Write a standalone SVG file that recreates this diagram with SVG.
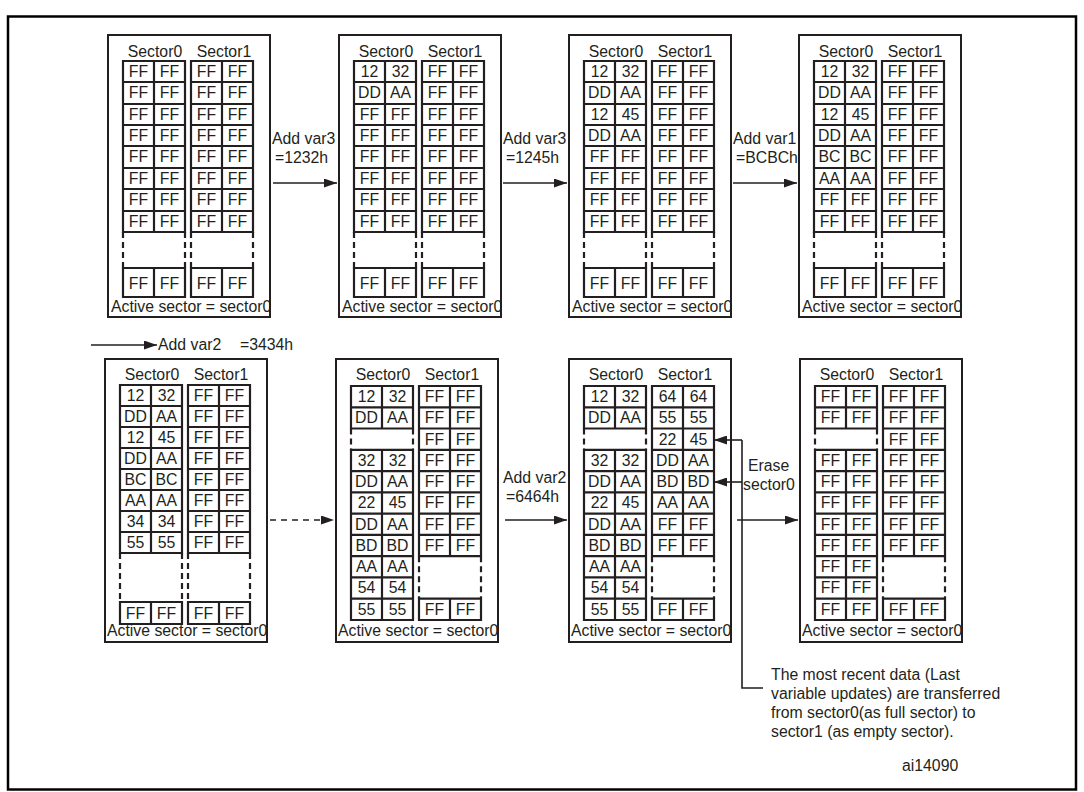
<svg xmlns="http://www.w3.org/2000/svg" xmlns:xlink="http://www.w3.org/1999/xlink" width="1084" height="792" viewBox="0 0 1084 792">
<style>
.pn{fill:#fff;stroke:#231f20;stroke-width:2}
.g{fill:none;stroke:#231f20;stroke-width:2.2}
.gd{fill:none;stroke:#231f20;stroke-width:2.2;stroke-dasharray:6 4}
.t{font-family:"Liberation Sans",Arial,sans-serif;font-size:15.8px;fill:#231f20}
.c{text-anchor:middle}
.ln{fill:none;stroke:#231f20;stroke-width:1.6}
.lnd{fill:none;stroke:#231f20;stroke-width:1.6;stroke-dasharray:6 5}
</style>
<defs>
<marker id="ah" markerWidth="13" markerHeight="9" refX="13" refY="4.5" orient="auto" markerUnits="userSpaceOnUse"><path d="M0,0 L13,4.5 L0,9 Z" fill="#231f20"/></marker>
<g id="colT">
<path class="g" d="M0,61H62V232H0Z M0,82H62 M0,104H62 M0,125H62 M0,146H62 M0,168H62 M0,189H62 M0,211H62 M31,61V232 M0,268H62V297H0Z M31,268V297"/>
<path class="gd" d="M0,232V268 M62,232V268"/>
</g>
<g id="colB8">
<path class="g" d="M0,385H62V553H0Z M0,406H62 M0,427H62 M0,448H62 M0,469H62 M0,490H62 M0,511H62 M0,532H62 M31,385V553 M0,602H62V624H0Z M31,602V624"/>
<path class="gd" d="M0,553V602 M62,553V602"/>
</g>
<g id="colA">
<path class="g" d="M0,386H62V428.5H0Z M0,407.3H62 M31,386V428.5 M0,449.8H62V620H0Z M0,471.1H62 M0,492.4H62 M0,513.6H62 M0,534.9H62 M0,556.2H62 M0,577.4H62 M0,598.7H62 M31,449.8V620"/>
<path class="gd" d="M0,428.5V449.8 M62,428.5V449.8"/>
</g>
<g id="colB">
<path class="g" d="M0,386H62V556.2H0Z M0,407.3H62 M0,428.5H62 M0,449.8H62 M0,471.1H62 M0,492.4H62 M0,513.6H62 M0,534.9H62 M31,386V556.2 M0,598.7H62V620H0Z M31,598.7V620"/>
<path class="gd" d="M0,556.2V598.7 M62,556.2V598.7"/>
</g>
</defs>
<rect width="1084" height="792" fill="#fff"/>
<rect x="8" y="16.5" width="1068" height="773" fill="none" stroke="#000" stroke-width="2.5"/>

<g id="p1">
<rect class="pn" x="108" y="35" width="162" height="282"/>
<text class="t c" y="57"><tspan x="155">Sector0</tspan><tspan x="224">Sector1</tspan></text>
<use href="#colT" x="123"/><use href="#colT" x="191"/>
<text class="t c" y="77"><tspan x="138.5">FF</tspan><tspan x="169.5">FF</tspan><tspan x="206.5">FF</tspan><tspan x="237.5">FF</tspan></text>
<text class="t c" y="98"><tspan x="138.5">FF</tspan><tspan x="169.5">FF</tspan><tspan x="206.5">FF</tspan><tspan x="237.5">FF</tspan></text>
<text class="t c" y="120"><tspan x="138.5">FF</tspan><tspan x="169.5">FF</tspan><tspan x="206.5">FF</tspan><tspan x="237.5">FF</tspan></text>
<text class="t c" y="141"><tspan x="138.5">FF</tspan><tspan x="169.5">FF</tspan><tspan x="206.5">FF</tspan><tspan x="237.5">FF</tspan></text>
<text class="t c" y="162"><tspan x="138.5">FF</tspan><tspan x="169.5">FF</tspan><tspan x="206.5">FF</tspan><tspan x="237.5">FF</tspan></text>
<text class="t c" y="184"><tspan x="138.5">FF</tspan><tspan x="169.5">FF</tspan><tspan x="206.5">FF</tspan><tspan x="237.5">FF</tspan></text>
<text class="t c" y="205"><tspan x="138.5">FF</tspan><tspan x="169.5">FF</tspan><tspan x="206.5">FF</tspan><tspan x="237.5">FF</tspan></text>
<text class="t c" y="227"><tspan x="138.5">FF</tspan><tspan x="169.5">FF</tspan><tspan x="206.5">FF</tspan><tspan x="237.5">FF</tspan></text>
<text class="t c" y="289"><tspan x="138.5">FF</tspan><tspan x="169.5">FF</tspan><tspan x="206.5">FF</tspan><tspan x="237.5">FF</tspan></text>
<text class="t" x="111" y="312">Active sector = sector0</text>
</g>

<g id="p2">
<rect class="pn" x="339" y="35" width="162" height="282"/>
<text class="t c" y="57"><tspan x="386">Sector0</tspan><tspan x="455">Sector1</tspan></text>
<use href="#colT" x="354"/><use href="#colT" x="422"/>
<text class="t c" y="77"><tspan x="369.5">12</tspan><tspan x="400.5">32</tspan><tspan x="437.5">FF</tspan><tspan x="468.5">FF</tspan></text>
<text class="t c" y="98"><tspan x="369.5">DD</tspan><tspan x="400.5">AA</tspan><tspan x="437.5">FF</tspan><tspan x="468.5">FF</tspan></text>
<text class="t c" y="120"><tspan x="369.5">FF</tspan><tspan x="400.5">FF</tspan><tspan x="437.5">FF</tspan><tspan x="468.5">FF</tspan></text>
<text class="t c" y="141"><tspan x="369.5">FF</tspan><tspan x="400.5">FF</tspan><tspan x="437.5">FF</tspan><tspan x="468.5">FF</tspan></text>
<text class="t c" y="162"><tspan x="369.5">FF</tspan><tspan x="400.5">FF</tspan><tspan x="437.5">FF</tspan><tspan x="468.5">FF</tspan></text>
<text class="t c" y="184"><tspan x="369.5">FF</tspan><tspan x="400.5">FF</tspan><tspan x="437.5">FF</tspan><tspan x="468.5">FF</tspan></text>
<text class="t c" y="205"><tspan x="369.5">FF</tspan><tspan x="400.5">FF</tspan><tspan x="437.5">FF</tspan><tspan x="468.5">FF</tspan></text>
<text class="t c" y="227"><tspan x="369.5">FF</tspan><tspan x="400.5">FF</tspan><tspan x="437.5">FF</tspan><tspan x="468.5">FF</tspan></text>
<text class="t c" y="289"><tspan x="369.5">FF</tspan><tspan x="400.5">FF</tspan><tspan x="437.5">FF</tspan><tspan x="468.5">FF</tspan></text>
<text class="t" x="342" y="312">Active sector = sector0</text>
</g>

<g id="p3">
<rect class="pn" x="569" y="35" width="162" height="282"/>
<text class="t c" y="57"><tspan x="616">Sector0</tspan><tspan x="685">Sector1</tspan></text>
<use href="#colT" x="584"/><use href="#colT" x="652"/>
<text class="t c" y="77"><tspan x="599.5">12</tspan><tspan x="630.5">32</tspan><tspan x="667.5">FF</tspan><tspan x="698.5">FF</tspan></text>
<text class="t c" y="98"><tspan x="599.5">DD</tspan><tspan x="630.5">AA</tspan><tspan x="667.5">FF</tspan><tspan x="698.5">FF</tspan></text>
<text class="t c" y="120"><tspan x="599.5">12</tspan><tspan x="630.5">45</tspan><tspan x="667.5">FF</tspan><tspan x="698.5">FF</tspan></text>
<text class="t c" y="141"><tspan x="599.5">DD</tspan><tspan x="630.5">AA</tspan><tspan x="667.5">FF</tspan><tspan x="698.5">FF</tspan></text>
<text class="t c" y="162"><tspan x="599.5">FF</tspan><tspan x="630.5">FF</tspan><tspan x="667.5">FF</tspan><tspan x="698.5">FF</tspan></text>
<text class="t c" y="184"><tspan x="599.5">FF</tspan><tspan x="630.5">FF</tspan><tspan x="667.5">FF</tspan><tspan x="698.5">FF</tspan></text>
<text class="t c" y="205"><tspan x="599.5">FF</tspan><tspan x="630.5">FF</tspan><tspan x="667.5">FF</tspan><tspan x="698.5">FF</tspan></text>
<text class="t c" y="227"><tspan x="599.5">FF</tspan><tspan x="630.5">FF</tspan><tspan x="667.5">FF</tspan><tspan x="698.5">FF</tspan></text>
<text class="t c" y="289"><tspan x="599.5">FF</tspan><tspan x="630.5">FF</tspan><tspan x="667.5">FF</tspan><tspan x="698.5">FF</tspan></text>
<text class="t" x="572" y="312">Active sector = sector0</text>
</g>

<g id="p4">
<rect class="pn" x="799" y="35" width="162" height="282"/>
<text class="t c" y="57"><tspan x="846">Sector0</tspan><tspan x="915">Sector1</tspan></text>
<use href="#colT" x="814"/><use href="#colT" x="882"/>
<text class="t c" y="77"><tspan x="829.5">12</tspan><tspan x="860.5">32</tspan><tspan x="897.5">FF</tspan><tspan x="928.5">FF</tspan></text>
<text class="t c" y="98"><tspan x="829.5">DD</tspan><tspan x="860.5">AA</tspan><tspan x="897.5">FF</tspan><tspan x="928.5">FF</tspan></text>
<text class="t c" y="120"><tspan x="829.5">12</tspan><tspan x="860.5">45</tspan><tspan x="897.5">FF</tspan><tspan x="928.5">FF</tspan></text>
<text class="t c" y="141"><tspan x="829.5">DD</tspan><tspan x="860.5">AA</tspan><tspan x="897.5">FF</tspan><tspan x="928.5">FF</tspan></text>
<text class="t c" y="162"><tspan x="829.5">BC</tspan><tspan x="860.5">BC</tspan><tspan x="897.5">FF</tspan><tspan x="928.5">FF</tspan></text>
<text class="t c" y="184"><tspan x="829.5">AA</tspan><tspan x="860.5">AA</tspan><tspan x="897.5">FF</tspan><tspan x="928.5">FF</tspan></text>
<text class="t c" y="205"><tspan x="829.5">FF</tspan><tspan x="860.5">FF</tspan><tspan x="897.5">FF</tspan><tspan x="928.5">FF</tspan></text>
<text class="t c" y="227"><tspan x="829.5">FF</tspan><tspan x="860.5">FF</tspan><tspan x="897.5">FF</tspan><tspan x="928.5">FF</tspan></text>
<text class="t c" y="289"><tspan x="829.5">FF</tspan><tspan x="860.5">FF</tspan><tspan x="897.5">FF</tspan><tspan x="928.5">FF</tspan></text>
<text class="t" x="802" y="312">Active sector = sector0</text>
</g>

<g id="p5">
<rect class="pn" x="105" y="359" width="162" height="283"/>
<text class="t c" y="380"><tspan x="152">Sector0</tspan><tspan x="221">Sector1</tspan></text>
<use href="#colB8" x="120"/><use href="#colB8" x="188"/>
<text class="t c" y="401"><tspan x="135.5">12</tspan><tspan x="166.5">32</tspan><tspan x="203.5">FF</tspan><tspan x="234.5">FF</tspan></text>
<text class="t c" y="422"><tspan x="135.5">DD</tspan><tspan x="166.5">AA</tspan><tspan x="203.5">FF</tspan><tspan x="234.5">FF</tspan></text>
<text class="t c" y="443"><tspan x="135.5">12</tspan><tspan x="166.5">45</tspan><tspan x="203.5">FF</tspan><tspan x="234.5">FF</tspan></text>
<text class="t c" y="464"><tspan x="135.5">DD</tspan><tspan x="166.5">AA</tspan><tspan x="203.5">FF</tspan><tspan x="234.5">FF</tspan></text>
<text class="t c" y="485"><tspan x="135.5">BC</tspan><tspan x="166.5">BC</tspan><tspan x="203.5">FF</tspan><tspan x="234.5">FF</tspan></text>
<text class="t c" y="506"><tspan x="135.5">AA</tspan><tspan x="166.5">AA</tspan><tspan x="203.5">FF</tspan><tspan x="234.5">FF</tspan></text>
<text class="t c" y="527"><tspan x="135.5">34</tspan><tspan x="166.5">34</tspan><tspan x="203.5">FF</tspan><tspan x="234.5">FF</tspan></text>
<text class="t c" y="548"><tspan x="135.5">55</tspan><tspan x="166.5">55</tspan><tspan x="203.5">FF</tspan><tspan x="234.5">FF</tspan></text>
<text class="t c" y="619"><tspan x="135.5">FF</tspan><tspan x="166.5">FF</tspan><tspan x="203.5">FF</tspan><tspan x="234.5">FF</tspan></text>
<text class="t" x="107" y="636">Active sector = sector0</text>
</g>

<g id="p6">
<rect class="pn" x="336" y="359" width="162" height="283"/>
<text class="t c" y="380"><tspan x="383">Sector0</tspan><tspan x="452">Sector1</tspan></text>
<use href="#colA" x="351"/><use href="#colB" x="419"/>
<text class="t c" y="402"><tspan x="366.5">12</tspan><tspan x="397.5">32</tspan><tspan x="434.5">FF</tspan><tspan x="465.5">FF</tspan></text>
<text class="t c" y="423.3"><tspan x="366.5">DD</tspan><tspan x="397.5">AA</tspan><tspan x="434.5">FF</tspan><tspan x="465.5">FF</tspan></text>
<text class="t c" y="444.5"><tspan x="434.5">FF</tspan><tspan x="465.5">FF</tspan></text>
<text class="t c" y="465.8"><tspan x="366.5">32</tspan><tspan x="397.5">32</tspan><tspan x="434.5">FF</tspan><tspan x="465.5">FF</tspan></text>
<text class="t c" y="487.1"><tspan x="366.5">DD</tspan><tspan x="397.5">AA</tspan><tspan x="434.5">FF</tspan><tspan x="465.5">FF</tspan></text>
<text class="t c" y="508.4"><tspan x="366.5">22</tspan><tspan x="397.5">45</tspan><tspan x="434.5">FF</tspan><tspan x="465.5">FF</tspan></text>
<text class="t c" y="529.6"><tspan x="366.5">DD</tspan><tspan x="397.5">AA</tspan><tspan x="434.5">FF</tspan><tspan x="465.5">FF</tspan></text>
<text class="t c" y="550.9"><tspan x="366.5">BD</tspan><tspan x="397.5">BD</tspan><tspan x="434.5">FF</tspan><tspan x="465.5">FF</tspan></text>
<text class="t c" y="572.2"><tspan x="366.5">AA</tspan><tspan x="397.5">AA</tspan></text>
<text class="t c" y="593.4"><tspan x="366.5">54</tspan><tspan x="397.5">54</tspan></text>
<text class="t c" y="614.7"><tspan x="366.5">55</tspan><tspan x="397.5">55</tspan><tspan x="434.5">FF</tspan><tspan x="465.5">FF</tspan></text>
<text class="t" x="338" y="636">Active sector = sector0</text>
</g>

<g id="p7">
<rect class="pn" x="569" y="359" width="162" height="283"/>
<text class="t c" y="380"><tspan x="616">Sector0</tspan><tspan x="685">Sector1</tspan></text>
<use href="#colA" x="584"/><use href="#colB" x="652"/>
<text class="t c" y="402"><tspan x="599.5">12</tspan><tspan x="630.5">32</tspan><tspan x="667.5">64</tspan><tspan x="698.5">64</tspan></text>
<text class="t c" y="423.3"><tspan x="599.5">DD</tspan><tspan x="630.5">AA</tspan><tspan x="667.5">55</tspan><tspan x="698.5">55</tspan></text>
<text class="t c" y="444.5"><tspan x="667.5">22</tspan><tspan x="698.5">45</tspan></text>
<text class="t c" y="465.8"><tspan x="599.5">32</tspan><tspan x="630.5">32</tspan><tspan x="667.5">DD</tspan><tspan x="698.5">AA</tspan></text>
<text class="t c" y="487.1"><tspan x="599.5">DD</tspan><tspan x="630.5">AA</tspan><tspan x="667.5">BD</tspan><tspan x="698.5">BD</tspan></text>
<text class="t c" y="508.4"><tspan x="599.5">22</tspan><tspan x="630.5">45</tspan><tspan x="667.5">AA</tspan><tspan x="698.5">AA</tspan></text>
<text class="t c" y="529.6"><tspan x="599.5">DD</tspan><tspan x="630.5">AA</tspan><tspan x="667.5">FF</tspan><tspan x="698.5">FF</tspan></text>
<text class="t c" y="550.9"><tspan x="599.5">BD</tspan><tspan x="630.5">BD</tspan><tspan x="667.5">FF</tspan><tspan x="698.5">FF</tspan></text>
<text class="t c" y="572.2"><tspan x="599.5">AA</tspan><tspan x="630.5">AA</tspan></text>
<text class="t c" y="593.4"><tspan x="599.5">54</tspan><tspan x="630.5">54</tspan></text>
<text class="t c" y="614.7"><tspan x="599.5">55</tspan><tspan x="630.5">55</tspan><tspan x="667.5">FF</tspan><tspan x="698.5">FF</tspan></text>
<text class="t" x="571" y="636">Active sector = sector0</text>
</g>

<g id="p8">
<rect class="pn" x="800" y="359" width="162" height="283"/>
<text class="t c" y="380"><tspan x="847">Sector0</tspan><tspan x="916">Sector1</tspan></text>
<use href="#colA" x="815"/><use href="#colB" x="883"/>
<text class="t c" y="402"><tspan x="830.5">FF</tspan><tspan x="861.5">FF</tspan><tspan x="898.5">FF</tspan><tspan x="929.5">FF</tspan></text>
<text class="t c" y="423.3"><tspan x="830.5">FF</tspan><tspan x="861.5">FF</tspan><tspan x="898.5">FF</tspan><tspan x="929.5">FF</tspan></text>
<text class="t c" y="444.5"><tspan x="898.5">FF</tspan><tspan x="929.5">FF</tspan></text>
<text class="t c" y="465.8"><tspan x="830.5">FF</tspan><tspan x="861.5">FF</tspan><tspan x="898.5">FF</tspan><tspan x="929.5">FF</tspan></text>
<text class="t c" y="487.1"><tspan x="830.5">FF</tspan><tspan x="861.5">FF</tspan><tspan x="898.5">FF</tspan><tspan x="929.5">FF</tspan></text>
<text class="t c" y="508.4"><tspan x="830.5">FF</tspan><tspan x="861.5">FF</tspan><tspan x="898.5">FF</tspan><tspan x="929.5">FF</tspan></text>
<text class="t c" y="529.6"><tspan x="830.5">FF</tspan><tspan x="861.5">FF</tspan><tspan x="898.5">FF</tspan><tspan x="929.5">FF</tspan></text>
<text class="t c" y="550.9"><tspan x="830.5">FF</tspan><tspan x="861.5">FF</tspan><tspan x="898.5">FF</tspan><tspan x="929.5">FF</tspan></text>
<text class="t c" y="572.2"><tspan x="830.5">FF</tspan><tspan x="861.5">FF</tspan></text>
<text class="t c" y="593.4"><tspan x="830.5">FF</tspan><tspan x="861.5">FF</tspan></text>
<text class="t c" y="614.7"><tspan x="830.5">FF</tspan><tspan x="861.5">FF</tspan><tspan x="898.5">FF</tspan><tspan x="929.5">FF</tspan></text>
<text class="t" x="802" y="636">Active sector = sector0</text>
</g>

<g id="connectors">
<path class="ln" d="M273,183H337" marker-end="url(#ah)"/>
<path class="ln" d="M503,183H567" marker-end="url(#ah)"/>
<path class="ln" d="M733,183H797" marker-end="url(#ah)"/>
<path class="ln" d="M91,345H157" marker-end="url(#ah)"/>
<path class="lnd" d="M270,520H334" marker-end="url(#ah)"/>
<path class="ln" d="M505,520H567" marker-end="url(#ah)"/>
<path class="ln" d="M737,520H798" marker-end="url(#ah)"/>
<path class="ln" d="M742,440H714" marker-end="url(#ah)"/>
<path class="ln" d="M742,482H714" marker-end="url(#ah)"/>
<path class="ln" d="M742,440V688H763"/>
</g>

<g id="labels">
<text class="t" x="272" y="144">Add var3</text>
<text class="t" x="275" y="163">=1232h</text>
<text class="t" x="503" y="144">Add var3</text>
<text class="t" x="506" y="163">=1245h</text>
<text class="t" x="733" y="144">Add var1</text>
<text class="t" x="736" y="163">=BCBCh</text>
<text class="t" y="350"><tspan x="158">Add var2</tspan><tspan x="240">=3434h</tspan></text>
<text class="t" x="503" y="483">Add var2</text>
<text class="t" x="506" y="502">=6464h</text>
<text class="t" x="748" y="471">Erase</text>
<text class="t" x="743" y="490">sector0</text>
<text class="t" x="771" y="680">The most recent data (Last</text>
<text class="t" x="771" y="699">variable updates) are transferred</text>
<text class="t" x="771" y="718">from sector0(as full sector) to</text>
<text class="t" x="771" y="737">sector1 (as empty sector).</text>
<text class="t" x="902" y="771">ai14090</text>
</g>
</svg>
